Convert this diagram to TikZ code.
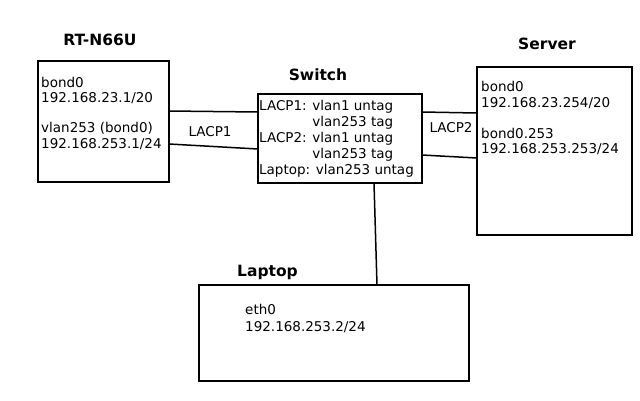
\documentclass[tikz,border=0pt]{standalone}
\usepackage{fontspec}
\setmainfont{DejaVu Sans}
\begin{document}
\begin{tikzpicture}[x=1pt, y=-1pt,
    box/.style={draw, line width=1.5pt, outer sep=0pt, inner sep=0pt},
    title/.style={font=\fontsize{15.5}{18}\selectfont\bfseries, anchor=base},
    info/.style={font=\fontsize{13.5}{15.5}\selectfont, align=left, anchor=north west, inner sep=0pt},
    link/.style={line width=1.5pt}]
    \useasboundingbox (0,0) rectangle (640,400);

    % 设备框
    \node[box, minimum width=131, minimum height=121] (rt) at (103.5,121.5) {};
    \node[box, minimum width=164, minimum height=89] (sw) at (340,138.5) {};
    \node[box, minimum width=155, minimum height=168] (srv) at (554.5,151) {};
    \node[box, minimum width=270, minimum height=96] (lap) at (334,333) {};

    % 标题
    \node[title] (rt title) at (100,45) {RT-N66U};
    \node[title] (sw title) at (318,80) {Switch};
    \node[title] (srv title) at (547,49) {Server};
    \node[title] (lap title) at (267.5,276) {Laptop};

    % 接口地址
    \node[info] (rt info) at (41,76.7) {bond0\\192.168.23.1/20\\[14.5pt]vlan253 (bond0)\\192.168.253.1/24};
    \node[info, font=\fontsize{13.5}{16}\selectfont] (sw info) at (259,99.7)
        {LACP1: vlan1 untag\\\phantom{LACP1: }vlan253 tag\\LACP2: vlan1 untag\\\phantom{LACP2: }vlan253 tag\\Laptop: vlan253 untag};
    \node[info] (srv info) at (481,81.4) {bond0\\192.168.23.254/20\\[15.5pt]bond0.253\\192.168.253.253/24};
    \node[info, font=\fontsize{13.5}{17}\selectfont] (lap info) at (245,303.7) {eth0\\192.168.253.2/24};

    % 连线
    \draw[link] ([yshift=10.5]rt.east) -- ([yshift=26.5]sw.west);
    \draw[link] ([yshift=-22.5]rt.east) -- ([yshift=-10.5]sw.west);
    \draw[link] ([yshift=26.5]sw.east) -- ([yshift=38]srv.west);
    \draw[link] ([yshift=-16.5]sw.east) -- ([yshift=-7]srv.west);
    \draw[link] ([xshift=34]sw.south) -- ([xshift=43]lap.north);

    % 链路标注
    \node[font=\fontsize{13.5}{15.5}\selectfont, anchor=base] (lacp1) at (210,136) {LACP1};
    \node[font=\fontsize{13.5}{15.5}\selectfont, anchor=base] (lacp2) at (451,132.3) {LACP2};
\end{tikzpicture}
\end{document}
